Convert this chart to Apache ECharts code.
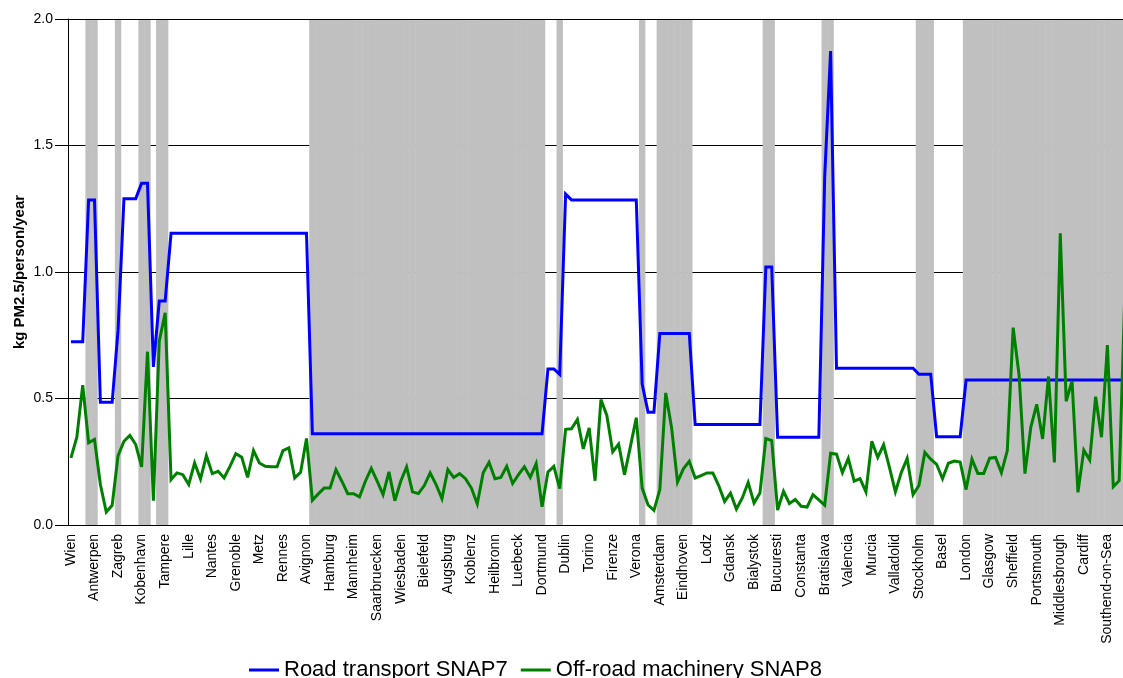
<!DOCTYPE html>
<html>
<head>
<meta charset="utf-8">
<script src="https://cdn.jsdelivr.net/npm/echarts@6/dist/echarts.min.js"></script>
<style>
  html, body { margin: 0; padding: 0; background: #fff; overflow: hidden; }
  #chart { width: 1123px; height: 678px; }
</style>
</head>
<body>
<div id="chart"></div>
<script>
// Tick labels shown on every 4th city
const tickLabels = ['Wien','Antwerpen','Zagreb','Kobenhavn','Tampere','Lille','Nantes','Grenoble','Metz','Rennes',
  'Avignon','Hamburg','Mannheim','Saarbruecken','Wiesbaden','Bielefeld','Augsburg','Koblenz','Heilbronn','Luebeck',
  'Dortmund','Dublin','Torino','Firenze','Verona','Amsterdam','Eindhoven','Lodz','Gdansk','Bialystok',
  'Bucuresti','Constanta','Bratislava','Valencia','Murcia','Valladolid','Stockholm','Basel','London','Glasgow',
  'Sheffield','Portsmouth','Middlesbrough','Cardiff','Southend-on-Sea'];

// Number of cities per country group (groups alternate white / grey shading)
const groupSizes = [3,2,3,1,3,2,1,2,24,40,2,1,13,1,2,6,12,2,8,2,14,3,5,28];

// Road transport SNAP7 (kg PM2.5/person/year), one value per city
const road = [
  0.724,0.724,0.724,1.285,1.285,0.485,0.485,0.485,0.77,1.29,
  1.29,1.29,1.351,1.351,0.625,0.885,0.885,1.153,1.153,1.153,
  1.153,1.153,1.153,1.153,1.153,1.153,1.153,1.153,1.153,1.153,
  1.153,1.153,1.153,1.153,1.153,1.153,1.153,1.153,1.153,1.153,
  1.153,0.361,0.361,0.361,0.361,0.361,0.361,0.361,0.361,0.361,
  0.361,0.361,0.361,0.361,0.361,0.361,0.361,0.361,0.361,0.361,
  0.361,0.361,0.361,0.361,0.361,0.361,0.361,0.361,0.361,0.361,
  0.361,0.361,0.361,0.361,0.361,0.361,0.361,0.361,0.361,0.361,
  0.361,0.617,0.617,0.595,1.308,1.285,1.285,1.285,1.285,1.285,
  1.285,1.285,1.285,1.285,1.285,1.285,1.285,0.557,0.446,0.446,
  0.757,0.757,0.757,0.757,0.757,0.757,0.397,0.397,0.397,0.397,
  0.397,0.397,0.397,0.397,0.397,0.397,0.397,0.397,1.02,1.02,
  0.347,0.347,0.347,0.347,0.347,0.347,0.347,0.347,1.38,1.873,
  0.62,0.62,0.62,0.62,0.62,0.62,0.62,0.62,0.62,0.62,
  0.62,0.62,0.62,0.62,0.596,0.596,0.596,0.349,0.349,0.349,
  0.349,0.349,0.573,0.573,0.573,0.573,0.573,0.573,0.573,0.573,
  0.573,0.573,0.573,0.573,0.573,0.573,0.573,0.573,0.573,0.573,
  0.573,0.573,0.573,0.573,0.573,0.573,0.573,0.573,0.573,0.573
];

// Off-road machinery SNAP8 (kg PM2.5/person/year), one value per city
const offroad = [
  0.265,0.347,0.553,0.325,0.338,0.16,0.051,0.078,0.274,0.331,
  0.354,0.318,0.23,0.685,0.096,0.727,0.839,0.179,0.206,0.199,
  0.16,0.245,0.182,0.274,0.203,0.212,0.186,0.232,0.282,0.268,
  0.188,0.294,0.245,0.232,0.23,0.23,0.294,0.305,0.186,0.208,
  0.342,0.098,0.123,0.146,0.146,0.219,0.173,0.124,0.124,0.111,
  0.173,0.224,0.173,0.12,0.21,0.096,0.173,0.23,0.131,0.124,
  0.156,0.206,0.16,0.104,0.219,0.188,0.203,0.183,0.146,0.083,
  0.206,0.248,0.183,0.188,0.232,0.164,0.199,0.23,0.188,0.243,
  0.072,0.21,0.232,0.144,0.378,0.38,0.417,0.301,0.384,0.175,
  0.496,0.433,0.289,0.32,0.199,0.31,0.424,0.146,0.079,0.058,
  0.14,0.522,0.384,0.17,0.222,0.252,0.186,0.195,0.206,0.206,
  0.156,0.093,0.126,0.063,0.107,0.168,0.087,0.126,0.342,0.334,
  0.059,0.133,0.085,0.101,0.074,0.071,0.12,0.099,0.078,0.284,
  0.28,0.207,0.263,0.173,0.183,0.131,0.331,0.267,0.317,0.227,
  0.131,0.207,0.263,0.12,0.156,0.287,0.26,0.24,0.183,0.244,
  0.253,0.249,0.14,0.26,0.204,0.204,0.264,0.267,0.207,0.293,
  0.78,0.593,0.203,0.387,0.477,0.34,0.587,0.247,1.153,0.489,
  0.569,0.129,0.296,0.257,0.507,0.347,0.711,0.151,0.175,0.95
];

const Y_MAX = 2;

// Build category list and shading from the groups
const categories = road.map((_, i) => String(i));
const shade = [];
groupSizes.forEach((n, g) => {
  for (let k = 0; k < n; k++) shade.push(g % 2 === 1 ? Y_MAX : '-');
});

const FONT = "'Liberation Sans', Arial, Helvetica, sans-serif";
const chart = echarts.init(document.getElementById('chart'), null, { renderer: 'canvas' });

chart.setOption({
  animation: false,
  backgroundColor: '#ffffff',
  textStyle: { fontFamily: FONT, color: '#000' },
  grid: { left: 68, top: 19, width: 1060, height: 506, containLabel: false, outerBoundsMode: 'none' },
  legend: {
    data: ['Road transport SNAP7', 'Off-road machinery SNAP8'],
    left: 249, top: 659,
    padding: 0,
    icon: 'rect',
    itemWidth: 30, itemHeight: 3, itemGap: 13,
    textStyle: { fontSize: 22, color: '#000', fontFamily: FONT }
  },
  xAxis: {
    type: 'category',
    data: categories,
    boundaryGap: true,
    axisLine: { show: true, lineStyle: { color: '#000', width: 1 } },
    axisTick: { show: false },
    splitLine: { show: false },
    axisLabel: {
      interval: 3,
      rotate: 90,
      fontSize: 14,
      color: '#000',
      margin: 9,
      fontFamily: FONT,
      formatter: (v, i) => (i % 4 === 0 ? (tickLabels[i / 4] || '') : '')
    }
  },
  yAxis: {
    type: 'value',
    min: 0, max: Y_MAX, interval: 0.5,
    name: 'kg PM2.5/person/year',
    nameLocation: 'middle',
    nameGap: 41,
    nameMoveOverlap: false,
    nameTextStyle: { fontSize: 15, fontWeight: 'bold', color: '#000', fontFamily: FONT },
    axisLine: { show: true, lineStyle: { color: '#000', width: 1 } },
    axisTick: { show: true, length: 13, lineStyle: { color: '#000', width: 1 } },
    axisLabel: { fontSize: 14, color: '#000', margin: 15, fontFamily: FONT, formatter: v => v.toFixed(1) },
    splitLine: { show: true, lineStyle: { color: '#000', width: 1 } }
  },
  series: [
    {
      name: 'bands', type: 'bar', data: shade,
      barWidth: 6.4, barGap: '-100%',
      itemStyle: { color: '#C0C0C0' },
      silent: true, z: 2
    },
    {
      name: 'Road transport SNAP7', type: 'line', data: road,
      symbol: 'none', showSymbol: false,
      lineStyle: { color: '#0000FF', width: 3, join: 'miter', miterLimit: 4 },
      itemStyle: { color: '#0000FF' },
      z: 3
    },
    {
      name: 'Off-road machinery SNAP8', type: 'line', data: offroad,
      symbol: 'none', showSymbol: false,
      lineStyle: { color: '#008000', width: 3, join: 'miter', miterLimit: 4 },
      itemStyle: { color: '#008000' },
      z: 4,
      markLine: {
        silent: true, symbol: ['none', 'none'],
        label: { show: false },
        lineStyle: { color: '#000', width: 1, type: 'solid' },
        data: [{ yAxis: Y_MAX }]
      }
    }
  ]
});
</script>
</body>
</html>
